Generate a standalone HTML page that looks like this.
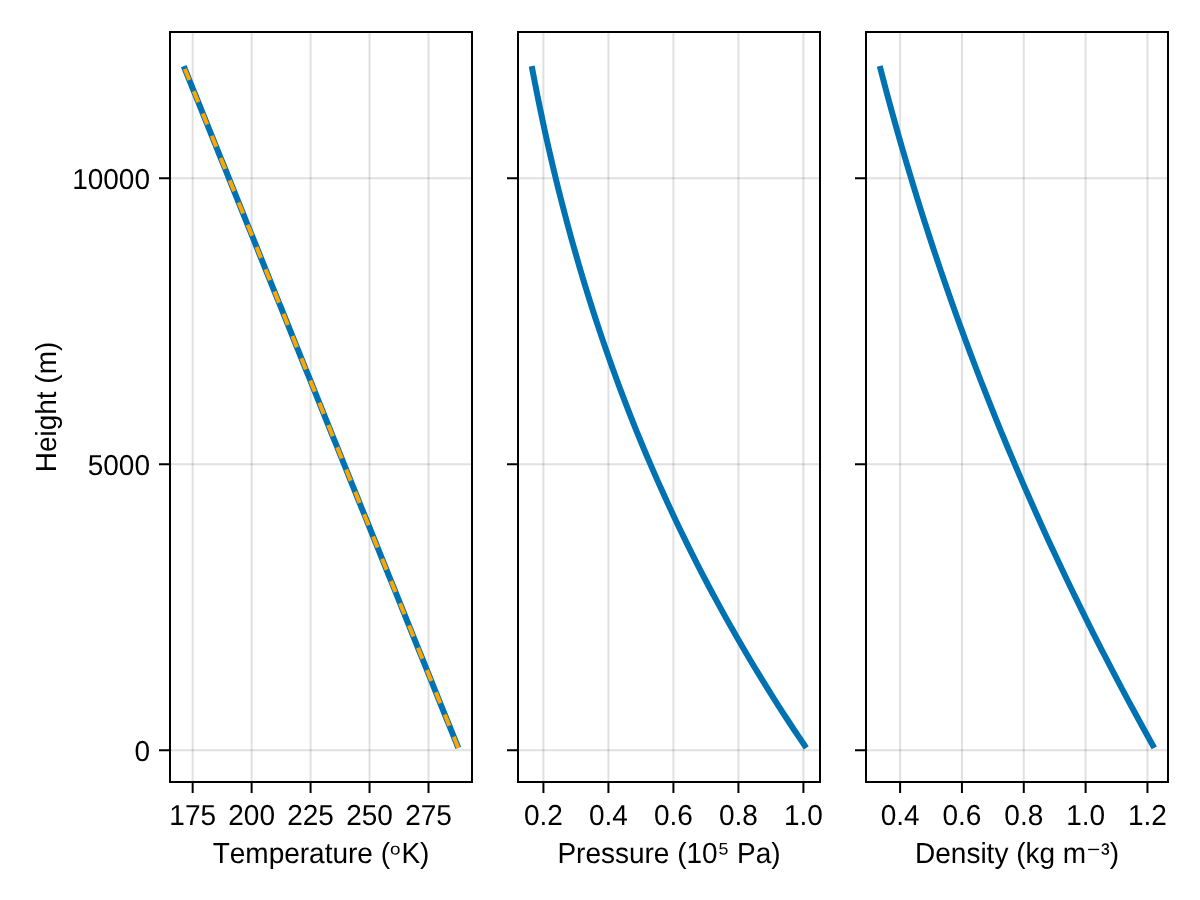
<!DOCTYPE html>
<html lang="en"><head><meta charset="utf-8"><title>Atmosphere profiles</title>
<style>html,body{margin:0;padding:0;background:#fff}body{width:1200px;height:900px;overflow:hidden}svg{display:block}text{font-family:"Liberation Sans","DejaVu Sans",sans-serif;font-size:28px;fill:#000;font-kerning:none;text-rendering:geometricPrecision}</style></head><body>
<svg width="1200" height="900" viewBox="0 0 1200 900">
<rect width="1200" height="900" fill="#fff"/>
<g>
<path d="M192.67 32.0V782.0M251.63 32.0V782.0M310.58 32.0V782.0M369.54 32.0V782.0M428.50 32.0V782.0" stroke="#000" stroke-opacity="0.12" stroke-width="2" fill="none"/>
<path d="M170.0 750.20H472.0M170.0 464.28H472.0M170.0 178.35H472.0" stroke="#000" stroke-opacity="0.12" stroke-width="2" fill="none"/>
<polyline points="458.27,747.91 455.97,742.18 453.66,736.45 451.35,730.72 449.04,724.99 446.74,719.26 444.43,713.53 442.12,707.80 439.82,702.07 437.51,696.34 435.20,690.61 432.89,684.88 430.59,679.15 428.28,673.42 425.97,667.70 423.67,661.97 421.36,656.24 419.05,650.51 416.74,644.78 414.44,639.05 412.13,633.32 409.82,627.59 407.52,621.86 405.21,616.13 402.90,610.40 400.60,604.67 398.29,598.94 395.98,593.21 393.67,587.48 391.37,581.75 389.06,576.02 386.75,570.29 384.45,564.56 382.14,558.83 379.83,553.10 377.52,547.37 375.22,541.64 372.91,535.92 370.60,530.19 368.30,524.46 365.99,518.73 363.68,513.00 361.37,507.27 359.07,501.54 356.76,495.81 354.45,490.08 352.15,484.35 349.84,478.62 347.53,472.89 345.22,467.16 342.92,461.43 340.61,455.70 338.30,449.97 336.00,444.24 333.69,438.51 331.38,432.78 329.07,427.05 326.77,421.32 324.46,415.59 322.15,409.86 319.85,404.14 317.54,398.41 315.23,392.68 312.93,386.95 310.62,381.22 308.31,375.49 306.00,369.76 303.70,364.03 301.39,358.30 299.08,352.57 296.78,346.84 294.47,341.11 292.16,335.38 289.85,329.65 287.55,323.92 285.24,318.19 282.93,312.46 280.63,306.73 278.32,301.00 276.01,295.27 273.70,289.54 271.40,283.81 269.09,278.08 266.78,272.36 264.48,266.63 262.17,260.90 259.86,255.17 257.55,249.44 255.25,243.71 252.94,237.98 250.63,232.25 248.33,226.52 246.02,220.79 243.71,215.06 241.40,209.33 239.10,203.60 236.79,197.87 234.48,192.14 232.18,186.41 229.87,180.68 227.56,174.95 225.26,169.22 222.95,163.49 220.64,157.76 218.33,152.03 216.03,146.30 213.72,140.58 211.41,134.85 209.11,129.12 206.80,123.39 204.49,117.66 202.18,111.93 199.88,106.20 197.57,100.47 195.26,94.74 192.96,89.01 190.65,83.28 188.34,77.55 186.03,71.82 183.73,66.09" fill="none" stroke="#0072B2" stroke-width="6" stroke-linejoin="round"/>
<line x1="183.73" y1="66.09" x2="458.27" y2="747.91" stroke="#FFA500" stroke-width="4" stroke-dasharray="12 12" stroke-dashoffset="21"/>
<path d="M192.67 783.0v10M251.63 783.0v10M310.58 783.0v10M369.54 783.0v10M428.50 783.0v10M169.0 750.20h-10M169.0 464.28h-10M169.0 178.35h-10" stroke="#000" stroke-width="2" fill="none"/>
<rect x="170.0" y="32.0" width="302.0" height="750.0" fill="none" stroke="#000" stroke-width="2"/>
<text transform="translate(192.67 824.7) scale(1 1.03)" text-anchor="middle">175</text>
<text transform="translate(251.63 824.7) scale(1 1.03)" text-anchor="middle">200</text>
<text transform="translate(310.58 824.7) scale(1 1.03)" text-anchor="middle">225</text>
<text transform="translate(369.54 824.7) scale(1 1.03)" text-anchor="middle">250</text>
<text transform="translate(428.50 824.7) scale(1 1.03)" text-anchor="middle">275</text>
<text transform="translate(150 760.85) scale(1 1.03)" text-anchor="end">0</text>
<text transform="translate(150 475.28) scale(1 1.03)" text-anchor="end">5000</text>
<text transform="translate(150 188.50) scale(1 1.03)" text-anchor="end">10000</text>
<text transform="translate(321.0 863.1) scale(1 1.035)" text-anchor="middle">Temperature (<tspan font-size="22.26" dy="-3.25" textLength="10.47" lengthAdjust="spacingAndGlyphs">ᵒ</tspan><tspan dy="3.25" dx="0.9">K)</tspan></text>
</g>
<g>
<path d="M543.42 32.0V782.0M608.42 32.0V782.0M673.42 32.0V782.0M738.42 32.0V782.0M803.42 32.0V782.0" stroke="#000" stroke-opacity="0.12" stroke-width="2" fill="none"/>
<path d="M518.0 750.20H820.0M518.0 464.28H820.0M518.0 178.35H820.0" stroke="#000" stroke-opacity="0.12" stroke-width="2" fill="none"/>
<polyline points="806.27,747.91 802.39,742.18 798.54,736.45 794.72,730.72 790.93,724.99 787.18,719.26 783.46,713.53 779.77,707.80 776.11,702.07 772.49,696.34 768.90,690.61 765.33,684.88 761.80,679.15 758.30,673.42 754.83,667.70 751.40,661.97 747.99,656.24 744.61,650.51 741.27,644.78 737.95,639.05 734.66,633.32 731.41,627.59 728.18,621.86 724.98,616.13 721.81,610.40 718.67,604.67 715.56,598.94 712.48,593.21 709.43,587.48 706.41,581.75 703.41,576.02 700.44,570.29 697.50,564.56 694.59,558.83 691.71,553.10 688.85,547.37 686.02,541.64 683.22,535.92 680.45,530.19 677.70,524.46 674.98,518.73 672.28,513.00 669.62,507.27 666.97,501.54 664.36,495.81 661.77,490.08 659.21,484.35 656.67,478.62 654.15,472.89 651.67,467.16 649.21,461.43 646.77,455.70 644.36,449.97 641.97,444.24 639.61,438.51 637.27,432.78 634.95,427.05 632.67,421.32 630.40,415.59 628.16,409.86 625.94,404.14 623.74,398.41 621.57,392.68 619.42,386.95 617.30,381.22 615.20,375.49 613.12,369.76 611.06,364.03 609.03,358.30 607.02,352.57 605.03,346.84 603.06,341.11 601.11,335.38 599.19,329.65 597.29,323.92 595.40,318.19 593.55,312.46 591.71,306.73 589.89,301.00 588.09,295.27 586.32,289.54 584.56,283.81 582.83,278.08 581.11,272.36 579.42,266.63 577.74,260.90 576.09,255.17 574.45,249.44 572.84,243.71 571.24,237.98 569.67,232.25 568.11,226.52 566.57,220.79 565.05,215.06 563.55,209.33 562.07,203.60 560.61,197.87 559.16,192.14 557.73,186.41 556.33,180.68 554.93,174.95 553.56,169.22 552.21,163.49 550.87,157.76 549.55,152.03 548.24,146.30 546.96,140.58 545.69,134.85 544.43,129.12 543.20,123.39 541.98,117.66 540.78,111.93 539.59,106.20 538.42,100.47 537.26,94.74 536.13,89.01 535.00,83.28 533.90,77.55 532.80,71.82 531.73,66.09" fill="none" stroke="#0072B2" stroke-width="6" stroke-linejoin="round"/>
<path d="M543.42 783.0v10M608.42 783.0v10M673.42 783.0v10M738.42 783.0v10M803.42 783.0v10M517.0 750.20h-10M517.0 464.28h-10M517.0 178.35h-10" stroke="#000" stroke-width="2" fill="none"/>
<rect x="518.0" y="32.0" width="302.0" height="750.0" fill="none" stroke="#000" stroke-width="2"/>
<text transform="translate(543.42 824.7) scale(1 1.03)" text-anchor="middle">0.2</text>
<text transform="translate(608.42 824.7) scale(1 1.03)" text-anchor="middle">0.4</text>
<text transform="translate(673.42 824.7) scale(1 1.03)" text-anchor="middle">0.6</text>
<text transform="translate(738.42 824.7) scale(1 1.03)" text-anchor="middle">0.8</text>
<text transform="translate(803.42 824.7) scale(1 1.03)" text-anchor="middle">1.0</text>
<text transform="translate(669.0 863.1) scale(1 1.035)" text-anchor="middle">Pressure (10<tspan dy="-1.35">⁵</tspan><tspan dy="1.35"> Pa)</tspan></text>
</g>
<g>
<path d="M900.10 32.0V782.0M961.94 32.0V782.0M1023.78 32.0V782.0M1085.61 32.0V782.0M1147.45 32.0V782.0" stroke="#000" stroke-opacity="0.12" stroke-width="2" fill="none"/>
<path d="M866.0 750.20H1168.0M866.0 464.28H1168.0M866.0 178.35H1168.0" stroke="#000" stroke-opacity="0.12" stroke-width="2" fill="none"/>
<polyline points="1154.27,747.91 1151.07,742.18 1147.88,736.45 1144.71,730.72 1141.56,724.99 1138.42,719.26 1135.30,713.53 1132.20,707.80 1129.11,702.07 1126.04,696.34 1122.98,690.61 1119.94,684.88 1116.91,679.15 1113.91,673.42 1110.91,667.70 1107.94,661.97 1104.98,656.24 1102.03,650.51 1099.10,644.78 1096.19,639.05 1093.29,633.32 1090.41,627.59 1087.54,621.86 1084.69,616.13 1081.86,610.40 1079.04,604.67 1076.24,598.94 1073.45,593.21 1070.68,587.48 1067.92,581.75 1065.18,576.02 1062.46,570.29 1059.75,564.56 1057.05,558.83 1054.38,553.10 1051.71,547.37 1049.06,541.64 1046.43,535.92 1043.81,530.19 1041.21,524.46 1038.62,518.73 1036.05,513.00 1033.50,507.27 1030.95,501.54 1028.43,495.81 1025.92,490.08 1023.42,484.35 1020.94,478.62 1018.47,472.89 1016.02,467.16 1013.58,461.43 1011.16,455.70 1008.76,449.97 1006.36,444.24 1003.99,438.51 1001.63,432.78 999.28,427.05 996.95,421.32 994.63,415.59 992.32,409.86 990.04,404.14 987.76,398.41 985.50,392.68 983.26,386.95 981.03,381.22 978.81,375.49 976.61,369.76 974.42,364.03 972.25,358.30 970.09,352.57 967.94,346.84 965.81,341.11 963.70,335.38 961.60,329.65 959.51,323.92 957.44,318.19 955.38,312.46 953.33,306.73 951.30,301.00 949.29,295.27 947.28,289.54 945.29,283.81 943.32,278.08 941.36,272.36 939.41,266.63 937.48,260.90 935.56,255.17 933.65,249.44 931.76,243.71 929.88,237.98 928.02,232.25 926.16,226.52 924.33,220.79 922.50,215.06 920.69,209.33 918.90,203.60 917.11,197.87 915.34,192.14 913.58,186.41 911.84,180.68 910.11,174.95 908.39,169.22 906.69,163.49 905.00,157.76 903.32,152.03 901.66,146.30 900.01,140.58 898.37,134.85 896.75,129.12 895.14,123.39 893.54,117.66 891.95,111.93 890.38,106.20 888.82,100.47 887.27,94.74 885.74,89.01 884.22,83.28 882.71,77.55 881.21,71.82 879.73,66.09" fill="none" stroke="#0072B2" stroke-width="6" stroke-linejoin="round"/>
<path d="M900.10 783.0v10M961.94 783.0v10M1023.78 783.0v10M1085.61 783.0v10M1147.45 783.0v10M865.0 750.20h-10M865.0 464.28h-10M865.0 178.35h-10" stroke="#000" stroke-width="2" fill="none"/>
<rect x="866.0" y="32.0" width="302.0" height="750.0" fill="none" stroke="#000" stroke-width="2"/>
<text transform="translate(900.10 824.7) scale(1 1.03)" text-anchor="middle">0.4</text>
<text transform="translate(961.94 824.7) scale(1 1.03)" text-anchor="middle">0.6</text>
<text transform="translate(1023.78 824.7) scale(1 1.03)" text-anchor="middle">0.8</text>
<text transform="translate(1085.61 824.7) scale(1 1.03)" text-anchor="middle">1.0</text>
<text transform="translate(1147.45 824.7) scale(1 1.03)" text-anchor="middle">1.2</text>
<text transform="translate(1017.0 863.1) scale(1 1.035)" text-anchor="middle">Density (kg m<tspan dy="0.7">⁻</tspan><tspan dy="-2.15" font-size="26">³</tspan><tspan dy="1.45">)</tspan></text>
</g>
<text transform="translate(56 407) rotate(-90) scale(1 1.035)" text-anchor="middle">Height (m)</text>
</svg></body></html>
